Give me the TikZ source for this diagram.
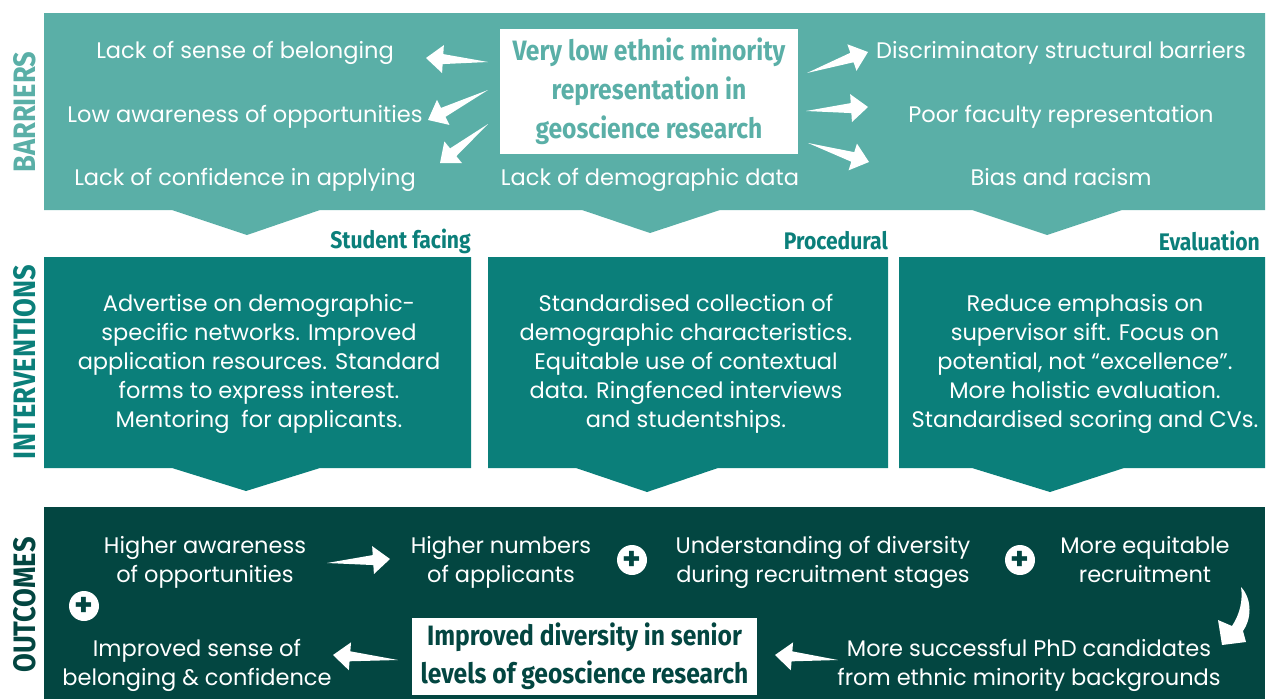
\documentclass[tikz,border=0pt]{standalone}
\usepackage{fontspec}
\setmainfont{Poppins}
\newfontfamily\handfont[FakeStretch=0.88]{Fira Sans}
\usetikzlibrary{calc}
\definecolor{barrier}{HTML}{5AAFA7}
\definecolor{interv}{HTML}{0B7F7A}
\definecolor{outcome}{HTML}{034641}
% white wedge arrow: tail, tip
\newcommand{\fatarrow}[2]{%
  \coordinate (hb) at ($(#2)!17pt!(#1)$);
  \fill[white] (#1) -- ($(hb)!5pt!90:(#1)$) -- ($(hb)!14pt!90:(#1)$) -- (#2)
    -- ($(hb)!14pt!-90:(#1)$) -- ($(hb)!5pt!-90:(#1)$) -- cycle;}
\begin{document}
\begin{tikzpicture}[x=1pt,y=-1pt,
  txt/.style={text=white, align=center, inner sep=0pt, yshift=-2.5pt, font=\fontsize{22.5}{29}\selectfont},
  hand/.style={inner sep=0pt, font=\handfont\bfseries\fontsize{24}{38}\selectfont},
  side/.style={hand, rotate=90, font=\handfont\bfseries\fontsize{31}{34}\selectfont},
  plus/.style={circle, fill=white, text=outcome, inner sep=0pt, minimum size=30pt,
    font=\bfseries\fontsize{30}{30}\selectfont}]
\useasboundingbox (0,0) rectangle (1268,699);
% Bands
\fill[barrier] (44,13) -- (1265,13) -- (1265,210) -- (1122,210) -- (1047,235) -- (972,210)
  -- (720,210) -- (650,233) -- (582,210) -- (320,210) -- (247,235) -- (172,210) -- (44,210) -- cycle;
\fill[interv] (44,257) -- (471,257) -- (471,468) -- (320,468) -- (246,491) -- (172,468) -- (44,468) -- cycle;
\fill[interv] (488,257) -- (888,257) -- (888,468) -- (718,468) -- (647,492) -- (576,468) -- (488,468) -- cycle;
\fill[interv] (899,257) -- (1265,257) -- (1265,468) -- (1124,468) -- (1050,492) -- (972,468) -- (899,468) -- cycle;
\fill[outcome] (44,507) rectangle (1265,699);
% Side labels
\node[side, text=barrier] (lbar) at (25,112) {BARRIERS};
\node[side, text=interv] (lint) at (25,362) {INTERVENTIONS};
\node[side, text=outcome] (lout) at (25,605) {OUTCOMES};
\node[hand, text=interv, anchor=east] (sfac) at (471,241) {Student facing};
\node[hand, text=interv, anchor=east] (proc) at (888,241) {Procedural};
\node[hand, text=interv, anchor=east] (eval) at (1260,241) {Evaluation};
% Barriers
\node[fill=white, minimum width=298pt, minimum height=125pt, align=center, text=barrier,
  font=\handfont\bfseries\fontsize{28}{39}\selectfont] (prob) at (649,91.5)
  {Very low ethnic minority\\representation in\\geoscience research};
\node[txt] (bel) at (245,50) {Lack of sense of belonging};
\node[txt] (awa) at (245,114) {Low awareness of opportunities};
\node[txt] (con) at (245,177) {Lack of confidence in applying};
\node[txt] (dem) at (650,177) {Lack of demographic data};
\node[txt] (dis) at (1061,50) {Discriminatory structural barriers};
\node[txt] (fac) at (1061,114) {Poor faculty representation};
\node[txt] (bia) at (1061,174.5) {Bias and racism};
% Interventions
\node[txt] (stu) at (259,361) {Advertise on demographic-\\specific networks. Improved\\application resources. Standard\\forms to express interest.\\Mentoring\ \ for applicants.};
\node[txt] (pro) at (686,361) {Standardised collection of\\demographic characteristics.\\Equitable use of contextual\\data. Ringfenced interviews\\and studentships.};
\node[txt] (eva) at (1085,361) {Reduce emphasis on\\supervisor sift. Focus on\\potential, not “excellence”.\\More holistic evaluation.\\Standardised scoring and CVs.};
% Outcomes
\node[txt] (hia) at (205,560) {Higher awareness\\of opportunities};
\node[txt] (hin) at (501,560) {Higher numbers\\of applicants};
\node[txt] (und) at (823,560) {Understanding of diversity\\during recruitment stages};
\node[txt] (equ) at (1145,557) {More equitable\\recruitment};
\node[txt] (sen) at (197,663) {Improved sense of\\belonging \& confidence};
\node[txt] (phd) at (1029,663) {More successful PhD candidates\\from ethnic minority backgrounds};
\node[fill=white, minimum width=345pt, minimum height=77pt, align=center, text=outcome,
  font=\handfont\bfseries\fontsize{28}{38}\selectfont] (div) at (584.5,656.5)
  {Improved diversity in senior\\levels of geoscience research};
\node[plus] (p1) at (632,560) {+};
\node[plus] (p2) at (1020,560) {+};
\node[plus] (p3) at (84,606) {+};
% Arrows
\coordinate (a1t) at (488,62);  \coordinate (a1h) at (426,58);
\coordinate (a2t) at (488,90);  \coordinate (a2h) at (428,120);
\coordinate (a3t) at (488,124); \coordinate (a3h) at (440,163);
\coordinate (b1t) at (807,73);  \coordinate (b1h) at (868,52);
\coordinate (b2t) at (806,111); \coordinate (b2h) at (868,107);
\coordinate (b3t) at (808,143); \coordinate (b3h) at (869,162);
\coordinate (c1t) at (327,563); \coordinate (c1h) at (390,559);
\coordinate (c2t) at (398,660); \coordinate (c2h) at (333,655);
\coordinate (c3t) at (838,660); \coordinate (c3h) at (775,655);
\fatarrow{a1t}{a1h} \fatarrow{a2t}{a2h} \fatarrow{a3t}{a3h}
\fatarrow{b1t}{b1h} \fatarrow{b2t}{b2h} \fatarrow{b3t}{b3h}
\fatarrow{c1t}{c1h} \fatarrow{c2t}{c2h} \fatarrow{c3t}{c3h}
\fill[white] (1241,587) .. controls (1253,600) and (1251,620) .. (1243,631) -- (1246,642) -- (1222,645)
  -- (1218,620) -- (1232,626) .. controls (1240,614) and (1243,600) .. (1241,587) -- cycle;
\end{tikzpicture}
\end{document}
